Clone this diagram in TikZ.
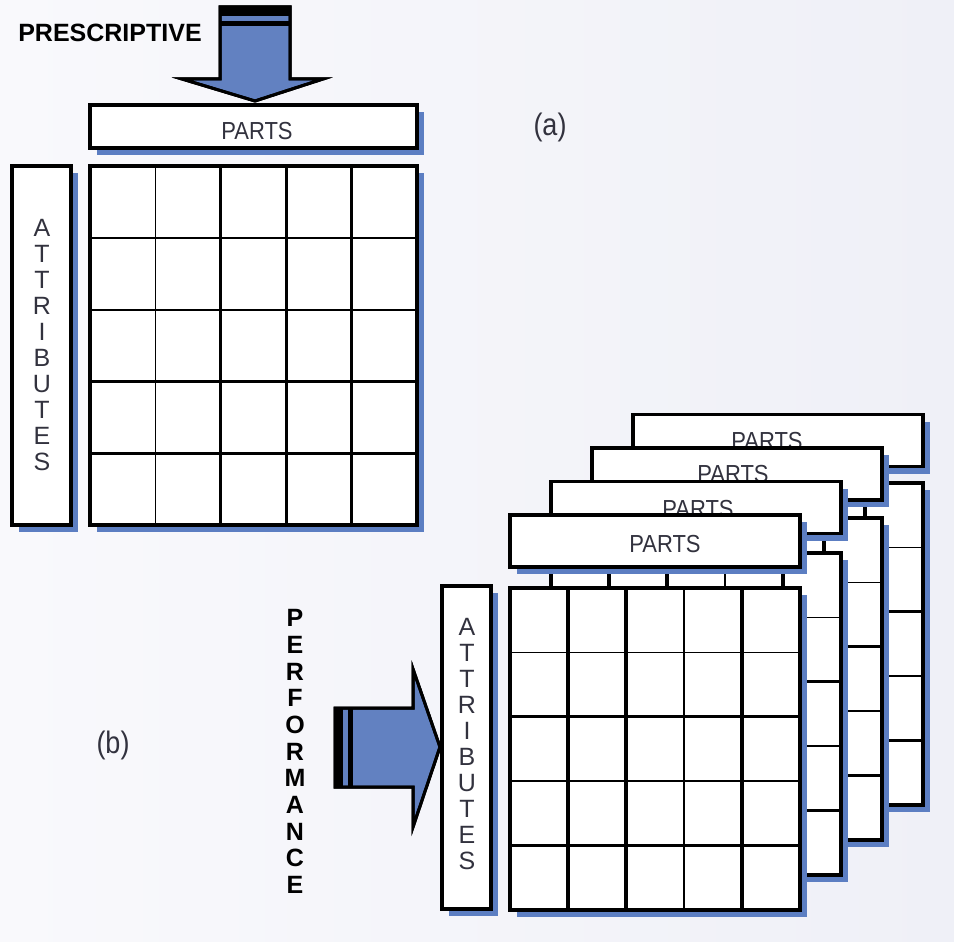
\documentclass[tikz,border=0pt]{standalone}
\usepackage{fontspec}
\setmainfont{Liberation Sans}

\definecolor{dropblue}{RGB}{92,126,194}
\definecolor{arrowblue}{RGB}{98,129,193}
\definecolor{ink}{RGB}{50,50,62}
\definecolor{bgleft}{RGB}{249,249,252}
\definecolor{bgright}{RGB}{239,240,247}

\tikzset{
  boxline/.style={draw=black, line width=3.2pt, fill=white},
  arrowshape/.style={draw=black, line width=3pt, fill=arrowblue, line join=miter},
  partslabel/.style={text=ink, font=\fontsize{22}{24}\selectfont, inner sep=0pt},
  stacklabel/.style={text=ink, font=\fontsize{25}{26}\selectfont, align=center, inner sep=0pt},
  boldlabel/.style={text=black, font=\bfseries\fontsize{25}{26}\selectfont, inner sep=0pt},
  caselabel/.style={text=ink, font=\fontsize{27}{30}\selectfont, inner sep=0pt},
}

% box with a blue drop shadow: x0 y0 x1 y1
\newcommand{\dropbox}[4]{%
  \fill[dropblue] (#1+7,#2+7) rectangle (#3+7,#4+7);
  \draw[boxline] (#1,#2) rectangle (#3,#4);}

% 5x5 grid with drop shadow: x0 y0 x1 y1, column line widths, row line widths
\newcommand{\cellgrid}[6]{%
  \fill[dropblue] (#1+7,#2+7) rectangle (#3+7,#4+7);
  \fill[white] (#1,#2) rectangle (#3,#4);
  \foreach \w [count=\i] in {#5}{%
    \draw[line width=\w] ({#1+(#3-#1)*\i/5},#2) -- ({#1+(#3-#1)*\i/5},#4);}
  \foreach \w [count=\i] in {#6}{%
    \draw[line width=\w] (#1,{#2+(#4-#2)*\i/5}) -- (#3,{#2+(#4-#2)*\i/5});}
  \draw[line width=3.2pt] (#1,#2) rectangle (#3,#4);}

\begin{document}
\begin{tikzpicture}[x=1pt,y=-1pt]
  \useasboundingbox (0,0) rectangle (954,942);
  \shade[left color=bgleft, right color=bgright] (0,0) rectangle (954,942);

  % ---------- (a) single matrix ----------
  \node[boldlabel] (prescriptive) at (110,33) {PRESCRIPTIVE};

  % downward arrow
  \path[arrowshape] (220,7) -- (290,7) -- (290,79) -- (323,79) -- (255,101)
      -- (182,79) -- (220,79) -- cycle;
  \fill[black] (220,7) rectangle (290,16);
  \fill[black] (220,21) rectangle (290,26);
  \draw[line width=3pt, line join=miter] (220,7) -- (290,7) -- (290,79) -- (323,79) -- (255,101)
      -- (182,79) -- (220,79) -- cycle;

  \dropbox{90}{105}{417}{148}
  \node[partslabel] (partsA) at (257,131.5) {\scalebox{1}[1.12]{PARTS}};

  \node[caselabel] (labelA) at (550,127) {\scalebox{1}[1.15]{(a)}};

  \dropbox{12}{166}{71}{525}
  \node[stacklabel] (attrA) at (42,345)
    {A\\T\\T\\R\\I\\B\\U\\T\\E\\S};

  \cellgrid{90}{166}{417}{525}{1.8pt,3.2pt,3.2pt,3.2pt}{1.8pt,1.8pt,3.2pt,3.2pt}

  % ---------- (b) stack of matrices ----------
  \foreach \k/\tx/\ty in {3/767/441, 2/733/474, 1/698/509, 0/665/544}{%
    \pgfmathsetmacro\gleft{510+41*\k}
    \pgfmathsetmacro\gright{800+41*\k}
    \pgfmathsetmacro\gtop{588-35*\k}
    \pgfmathsetmacro\gbot{910-35*\k}
    \pgfmathsetmacro\ptop{515-33.5*\k}
    \pgfmathsetmacro\pbot{567-33.5*\k}
    \cellgrid{\gleft}{\gtop}{\gright}{\gbot}{3.2pt,3.2pt,1.8pt,3.2pt}{1.8pt,3.2pt,1.8pt,3.2pt}
    \dropbox{\gleft}{\ptop}{\gright}{\pbot}
    \node[partslabel] (parts\k) at (\tx,\ty) {\scalebox{1}[1.12]{PARTS}};
  }

  \dropbox{442}{586}{491}{909}
  \node[stacklabel] (attrB) at (467,744)
    {A\\T\\T\\R\\I\\B\\U\\T\\E\\S};

  % rightward arrow
  \path[arrowshape] (335,708) -- (413,708) -- (413,669) -- (440,747) -- (413,827)
      -- (413,787) -- (335,787) -- cycle;
  \fill[black] (335,708) rectangle (343,787);
  \fill[black] (348,708) rectangle (353,787);
  \draw[line width=3pt, line join=miter] (335,708) -- (413,708) -- (413,669) -- (440,747)
      -- (413,827) -- (413,787) -- (335,787) -- cycle;

  \node[boldlabel, align=center, font=\bfseries\fontsize{25}{26.7}\selectfont]
    (performance) at (295,751.5) {P\\E\\R\\F\\O\\R\\M\\A\\N\\C\\E};

  \node[caselabel] (labelB) at (113,745) {\scalebox{1}[1.15]{(b)}};
\end{tikzpicture}
\end{document}
